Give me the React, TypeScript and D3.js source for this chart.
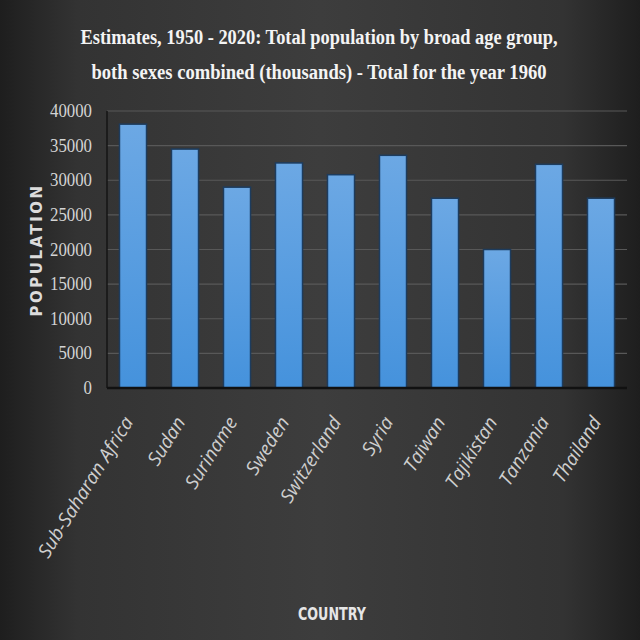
import React from "react";
import * as d3 from "d3";

const categories = ["Sub-Saharan Africa", "Sudan", "Suriname", "Sweden", "Switzerland", "Syria", "Taiwan", "Tajikistan", "Tanzania", "Thailand"];
const values = [38100, 34500, 29000, 32500, 30800, 33600, 27400, 20000, 32300, 27400];
const yTicks = [0, 5000, 10000, 15000, 20000, 25000, 30000, 35000, 40000];
const titleLines = ["Estimates, 1950 - 2020: Total population by broad age group,", "both sexes combined (thousands) - Total for the year 1960"];

export default function App() {
  const W = 640, H = 640;
  const left = 107, right = 627, top = 111, bottom = 388;
  const x = d3.scaleBand<string>().domain(categories).range([left, right]).paddingInner(0.48).paddingOuter(0.24);
  const y = d3.scaleLinear().domain([0, 40000]).range([bottom, top]);
  const serif = "'Liberation Serif', serif";
  const titleWidths = [477, 455];
  return (
    <svg width={W} height={H} style={{ position: "absolute", left: 0, top: 0 }}>
      <defs>
        <linearGradient id="bgh" x1="0" y1="0" x2="1" y2="0">
          <stop offset="0%" stopColor="#1e1e1e" />
          <stop offset="12%" stopColor="#333333" />
          <stop offset="50%" stopColor="#3d3d3d" />
          <stop offset="88%" stopColor="#333333" />
          <stop offset="100%" stopColor="#1e1e1e" />
        </linearGradient>
        <linearGradient id="bar" x1="0" y1="0" x2="0" y2="1">
          <stop offset="0%" stopColor="#6ca8e4" />
          <stop offset="100%" stopColor="#4592dc" />
        </linearGradient>
      </defs>
      <rect x={0} y={0} width={W} height={H} fill="url(#bgh)" />
      {titleLines.map((t, i) => (
        <text key={i} x={319} y={44 + i * 35} textAnchor="middle" fill="#f4f4f4" fontFamily={serif}
          fontWeight="bold" fontSize={20} textLength={titleWidths[i]} lengthAdjust="spacingAndGlyphs">{t}</text>
      ))}
      {yTicks.map((t) => (
        <g key={t}>
          {t > 0 && <line x1={left} x2={right} y1={y(t)} y2={y(t)} stroke="#585858" strokeWidth={1.2} />}
          <text x={92} y={y(t) + 6} textAnchor="end" fill="#d4d4d4" fontFamily={serif} fontSize={18}
            textLength={String(t).length * 8.4} lengthAdjust="spacingAndGlyphs">{t}</text>
        </g>
      ))}
      <line x1={left} x2={left} y1={top} y2={bottom} stroke="#151515" strokeWidth={1.5} />
      {categories.map((c, i) => (
        <rect key={c} x={x(c)!} y={y(values[i])} width={x.bandwidth()} height={bottom - y(values[i])}
          fill="url(#bar)" stroke="#1d3c5e" strokeWidth={1.5} />
      ))}
      <line x1={left} x2={right} y1={bottom} y2={bottom} stroke="#111" strokeWidth={2.5} />
      {categories.map((c) => {
        const cx = x(c)! + x.bandwidth() / 2 + 1;
        return (
          <text key={c} transform={`translate(${cx},${bottom + 34}) rotate(-58)`} textAnchor="end"
            fill="#cfcfcf" fontFamily="'Open Sans', sans-serif" fontStyle="italic" fontSize={19}>{c}</text>
        );
      })}
      <text transform={`translate(42,250) rotate(-90)`} textAnchor="middle" fill="#dcdcdc"
        fontFamily="'DejaVu Sans', sans-serif" fontWeight="bold" fontSize={15} letterSpacing={2.5}>POPULATION</text>
      <text x={332} y={620} textAnchor="middle" fill="#e6e6e6" fontFamily="'DejaVu Sans', sans-serif"
        fontWeight="bold" fontSize={18} textLength={68} lengthAdjust="spacingAndGlyphs">COUNTRY</text>
    </svg>
  );
}
